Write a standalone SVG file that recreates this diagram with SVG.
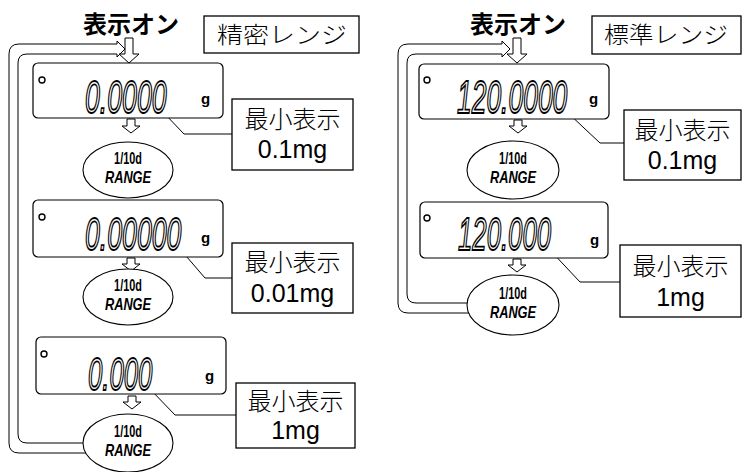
<svg xmlns="http://www.w3.org/2000/svg" width="744" height="472" viewBox="0 0 744 472">
<style>
.bg{fill:#fff}
.disp{fill:#fff;stroke:#000;stroke-width:1.2}
.box{fill:#fff;stroke:#000;stroke-width:1.3}
.ell{fill:#fff;stroke:#000;stroke-width:1.1}
.ln{fill:none;stroke:#000;stroke-width:1}
.harrow{fill:#fff;stroke:#000;stroke-width:1}
.ind{fill:none;stroke:#000;stroke-width:1.4}
.seg{font-family:"Liberation Sans",Arial,sans-serif;font-style:italic;font-size:46px;fill:#fff;stroke:#000;stroke-width:1.8}
.g{font-family:"Liberation Sans",Arial,sans-serif;font-weight:bold;font-size:15px;fill:#000}
.on{font-family:"Noto Sans CJK JP",sans-serif;font-weight:bold;font-size:24px;fill:#000}
.rng{font-family:"Noto Sans CJK JP",sans-serif;font-weight:300;font-size:23px;fill:#000}
.jp{font-family:"Noto Sans CJK JP",sans-serif;font-weight:300;font-size:24px;fill:#000;text-anchor:middle}
.mg{font-family:"Liberation Sans",Arial,sans-serif;font-size:25px;fill:#000;text-anchor:middle}
.d1{font-family:"Liberation Sans",Arial,sans-serif;font-weight:bold;font-size:16px;fill:#000;text-anchor:middle}
.d2{font-family:"Liberation Sans",Arial,sans-serif;font-weight:bold;font-style:italic;font-size:16px;fill:#000;text-anchor:middle}
</style>
<rect class="bg" x="0" y="0" width="744" height="472"/>

<g id="connectors">
  <path class="ln" d="M86 453 H19 Q9 453 9 443 V54 Q9 44 19 44 H117 V41 L125 49 L117 57 V54 H27 Q18 54 18 63 V434 Q18 443 27 443 H83"/>
  <path class="ln" d="M470 313 H408 Q398 313 398 303 V54 Q398 44 408 44 H502 V41 L510 49 L502 57 V54 H416 Q407 54 407 63 V294 Q407 303 416 303 H467"/>
  <polygon class="harrow" points="125,38 133,38 133,54 139,54 129,63 119,54 125,54"/>
  <polygon class="harrow" points="127,119 135,119 135,126 140,126 131,133 122,126 127,126"/>
  <polygon class="harrow" points="127,258 135,258 135,264 140,264 131,271 122,264 127,264"/>
  <polygon class="harrow" points="128,396 136,396 136,402 141,402 132,409 123,402 128,402"/>
  <polygon class="harrow" points="513,38 521,38 521,54 527,54 517,63 507,54 513,54"/>
  <polygon class="harrow" points="514,120 522,120 522,126 527,126 518,133 509,126 514,126"/>
  <polygon class="harrow" points="513,259 521,259 521,265 526,265 517,272 508,265 513,265"/>
  <polyline class="ln" points="163,112 184,134 232,134"/>
  <polyline class="ln" points="180,249 205,278 232,278"/>
  <polyline class="ln" points="150,389 175,415 236,415"/>
  <polyline class="ln" points="567,112 600,143 624,143"/>
  <polyline class="ln" points="549,249 580,282 620,282"/>
</g>

<g id="title-left"><text class="on" x="83" y="33">表示オン</text></g>
<g id="range-left"><rect class="box" x="204" y="16" width="155" height="37"/><text class="rng" transform="translate(217,43) scale(1.13 1)">精密レンジ</text></g>

<g id="display-l1">
  <rect class="disp" x="33" y="63" width="190" height="55" rx="5"/>
  <circle class="ind" cx="42" cy="80" r="3"/>
  <text class="seg" transform="translate(85,113) scale(0.58 1)">0.0000</text>
  <text class="g" x="201" y="104">g</text>
</g>
<g id="range-l1"><ellipse class="ell" cx="128" cy="170" rx="45" ry="28"/><text class="d1" transform="translate(128,164) scale(0.68 1)">1/10d</text><text class="d2" transform="translate(128,183) scale(0.8 1)">RANGE</text></g>
<g id="min-l1"><rect class="box" x="232" y="99" width="121" height="71"/><text class="jp" x="292.5" y="128">最小表示</text><text class="mg" x="292.5" y="158">0.1mg</text></g>

<g id="display-l2">
  <rect class="disp" x="33" y="200" width="190" height="57" rx="5"/>
  <circle class="ind" cx="42" cy="217" r="3"/>
  <text class="seg" transform="translate(85,250) scale(0.58 1)">0.00000</text>
  <text class="g" x="201" y="243">g</text>
</g>
<g id="range-l2"><ellipse class="ell" cx="128" cy="297" rx="45" ry="28"/><text class="d1" transform="translate(128,291) scale(0.68 1)">1/10d</text><text class="d2" transform="translate(128,310) scale(0.8 1)">RANGE</text></g>
<g id="min-l2"><rect class="box" x="232" y="243" width="121" height="70"/><text class="jp" x="292.5" y="271">最小表示</text><text class="mg" x="292.5" y="302">0.01mg</text></g>

<g id="display-l3">
  <rect class="disp" x="36" y="337" width="190" height="57" rx="5"/>
  <circle class="ind" cx="44" cy="354" r="3"/>
  <text class="seg" transform="translate(88,390) scale(0.56 1)">0.000</text>
  <text class="g" x="205" y="381">g</text>
</g>
<g id="range-l3"><ellipse class="ell" cx="128" cy="443" rx="45" ry="29"/><text class="d1" transform="translate(128,437) scale(0.68 1)">1/10d</text><text class="d2" transform="translate(128,456) scale(0.8 1)">RANGE</text></g>
<g id="min-l3"><rect class="box" x="236" y="383" width="119" height="65"/><text class="jp" x="295.5" y="410">最小表示</text><text class="mg" x="295.5" y="439">1mg</text></g>

<g id="title-right"><text class="on" x="470" y="33">表示オン</text></g>
<g id="range-right"><rect class="box" x="592" y="16" width="149" height="38"/><text class="rng" transform="translate(604,43) scale(1.08 1)">標準レンジ</text></g>

<g id="display-r1">
  <rect class="disp" x="419" y="64" width="190" height="55" rx="5"/>
  <circle class="ind" cx="427" cy="80" r="3"/>
  <text class="seg" transform="translate(457,113) scale(0.575 1)">120.0000</text>
  <text class="g" x="589" y="104">g</text>
</g>
<g id="range-r1"><ellipse class="ell" cx="513" cy="170" rx="46" ry="29"/><text class="d1" transform="translate(513,164) scale(0.68 1)">1/10d</text><text class="d2" transform="translate(513,183) scale(0.8 1)">RANGE</text></g>
<g id="min-r1"><rect class="box" x="624" y="110" width="117" height="70"/><text class="jp" x="682.5" y="139">最小表示</text><text class="mg" x="682.5" y="169">0.1mg</text></g>

<g id="display-r2">
  <rect class="disp" x="420" y="202" width="188" height="56" rx="5"/>
  <circle class="ind" cx="427" cy="218" r="3"/>
  <text class="seg" transform="translate(458,250) scale(0.56 1)">120.000</text>
  <text class="g" x="590" y="245">g</text>
</g>
<g id="range-r2"><ellipse class="ell" cx="513" cy="305" rx="46" ry="30"/><text class="d1" transform="translate(513,299) scale(0.68 1)">1/10d</text><text class="d2" transform="translate(513,318) scale(0.8 1)">RANGE</text></g>
<g id="min-r2"><rect class="box" x="620" y="245" width="121" height="72"/><text class="jp" x="680.5" y="275">最小表示</text><text class="mg" x="680.5" y="306">1mg</text></g>
</svg>
